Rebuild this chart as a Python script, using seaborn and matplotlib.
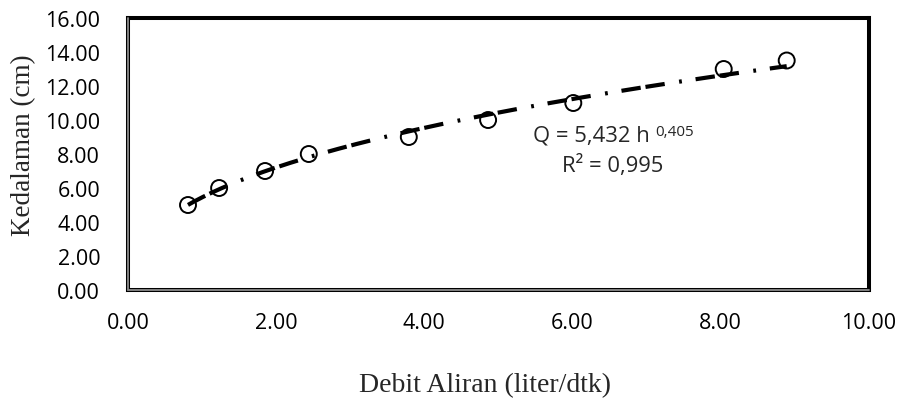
import numpy as np
import seaborn as sns
import matplotlib.pyplot as plt


# debit (liter/dtk) vs kedalaman (cm)
debit = [0.81, 1.23, 1.85, 2.44, 3.79, 4.86, 6.01, 8.04, 8.89]
kedalaman = [5.0, 6.0, 7.0, 8.0, 9.0, 10.0, 11.0, 13.0, 13.5]
x_ticks = [0, 2, 4, 6, 8, 10]
y_ticks = [0, 2, 4, 6, 8, 10, 12, 14, 16]
eq_text = 'Q = 5,432 h'
eq_power = '0,405'
r2_text = 'R\u00b2 = 0,995'

sns.set_style('white')
plt.rcParams['font.family'] = ['Open Sans', 'DejaVu Sans']
plt.rcParams['lines.scale_dashes'] = False

fig = plt.figure(figsize=(9, 4.02), dpi=100)
ax = fig.add_axes([0.1422, 0.2761, 0.8233, 0.6766])

# power trendline  y = a * x^b  fitted in log space
b, log_a = np.polyfit(np.log(debit), np.log(kedalaman), 1)
xf = np.linspace(min(debit), max(debit), 200)
yf = np.exp(log_a) * xf ** b

sns.scatterplot(x=debit, y=kedalaman, ax=ax, marker='o', s=11.5 ** 2,
                color='black', linewidth=1.4, zorder=3)
pts = ax.collections[-1]
pts.set_facecolor('none')
pts.set_edgecolor('black')

sns.lineplot(x=xf, y=yf, ax=ax, color='black', linewidth=3.0)
trend = ax.lines[-1]
trend.set_zorder(4)
trend.set_linestyle((0, (14, 3.5, 14, 10.5, 2, 10)))
trend.set_dash_capstyle('butt')

ax.set_xlim(0, 10)
ax.set_ylim(0, 16)
ax.set_xticks(x_ticks)
ax.set_yticks(y_ticks)
ax.set_xticklabels(['%.2f' % v for v in x_ticks])
ax.set_yticklabels(['%.2f' % v for v in y_ticks])
ax.tick_params(length=0, labelsize=15.5, colors='black')
ax.tick_params(axis='y', pad=20)
ax.tick_params(axis='x', pad=16)

# frame: black all round, grey stripe on left and bottom
for side in ['top', 'right', 'left', 'bottom']:
    ax.spines[side].set_color('black')
    ax.spines[side].set_linewidth(2.9)
ax.plot([0, 0, 1], [1, 0, 0], transform=ax.transAxes, color='#8c8c8c',
        linewidth=1.3, clip_on=False, zorder=6, solid_joinstyle='miter')

ax.set_xlabel('Debit Aliran (liter/dtk)', family='Liberation Serif', fontsize=20)
ax.set_ylabel('Kedalaman (cm)', family='Liberation Serif', fontsize=19.5)
ax.xaxis.label.set_va('center')
ax.yaxis.label.set_va('center')
ax.xaxis.set_label_coords(0.482, -0.349)
ax.yaxis.set_label_coords(-0.1404, 0.537)

t1 = ax.text(5.47, 8.82, eq_text, fontsize=15.8, ha='left', va='baseline')
ax.annotate(eq_power, xy=(1, 1), xycoords=t1, xytext=(4, 0),
            textcoords='offset points', fontsize=11, ha='left', va='top')
ax.text(6.54, 7.0, r2_text, fontsize=15.8, ha='center', va='baseline')

fig.savefig('out.png', dpi=100)
